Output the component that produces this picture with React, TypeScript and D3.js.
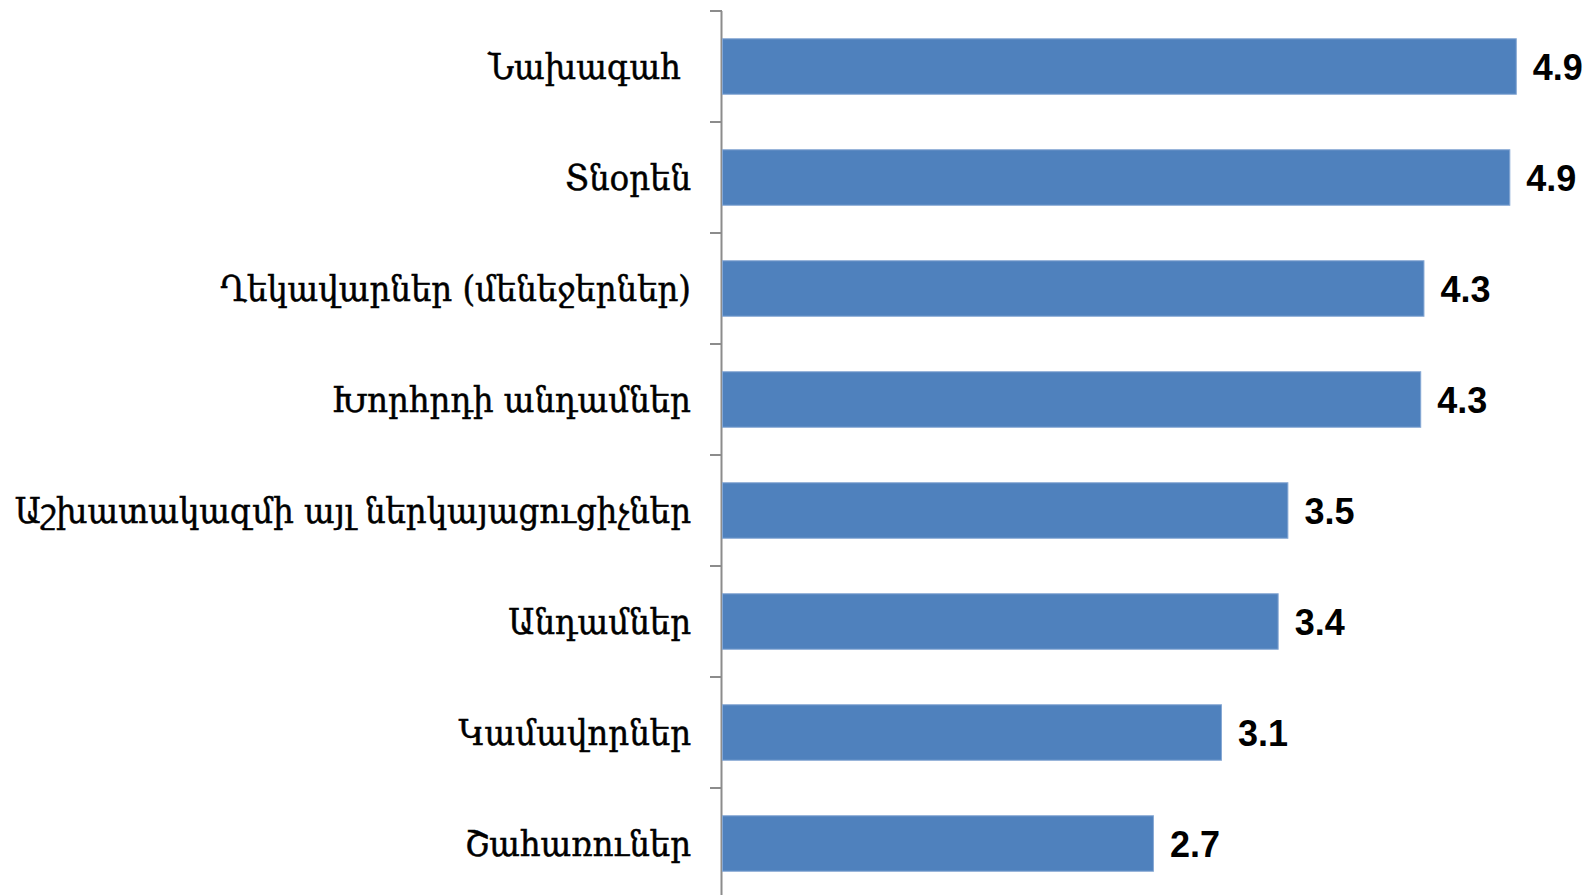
import React from "react";
import * as d3 from "d3";

const categories = [
  "Նախագահ ",
  "Տնօրեն",
  "Ղեկավարներ (մենեջերներ)",
  "Խորհրդի անդամներ",
  "Աշխատակազմի այլ ներկայացուցիչներ",
  "Անդամներ",
  "Կամավորներ",
  "Շահառուներ",
];
const values = [4.9, 4.86, 4.33, 4.31, 3.49, 3.43, 3.08, 2.66];
const xDomain = [0, 5];

const W = 1595;
const H = 895;
const margin = { left: 722, top: 11, right: 62, bottom: -4 };

export default function App() {
  const x = d3
    .scaleLinear()
    .domain(xDomain)
    .range([margin.left, W - margin.right - 1]);
  const y = d3
    .scaleBand()
    .domain(categories)
    .range([margin.top, H - margin.bottom])
    .paddingInner(0.5)
    .paddingOuter(0.25);
  const step = y.step();
  const bottomEdge = H - margin.bottom;
  const tickYs = categories.map((c) => (y(c) as number) - step * 0.25);
  const fmt = d3.format(".1f");

  return (
    <svg
      width={W}
      height={H}
      style={{ position: "absolute", left: 0, top: 0, background: "#fff" }}
    >
      <line
        x1={margin.left - 0.5}
        x2={margin.left - 0.5}
        y1={margin.top}
        y2={bottomEdge}
        stroke="#8c8c8c"
        strokeWidth={2}
      />
      {tickYs.map((t, i) => (
        <line
          key={"t" + i}
          x1={margin.left - 12}
          x2={margin.left}
          y1={t}
          y2={t}
          stroke="#8c8c8c"
          strokeWidth={2}
        />
      ))}
      {categories.map((c, i) => (
        <g key={c}>
          <rect
            x={x(0) + 0.5}
            y={y(c)}
            width={x(values[i]) - x(0)}
            height={y.bandwidth()}
            fill="#4f81bd"
            stroke="#86a8d4"
            strokeWidth={1}
          />
          <text
            x={margin.left - 31}
            y={(y(c) as number) + y.bandwidth() / 2}
            dy="0.36em"
            textAnchor="end"
            fontFamily="'DejaVu Serif Condensed', 'DejaVu Serif', serif"
            fontStretch="condensed"
            fontSize={36}
            fill="#000"
            stroke="#000"
            strokeWidth={0.5}
            style={{ whiteSpace: "pre" }}
          >
            {c}
          </text>
          <text
            x={x(values[i]) + 17}
            y={(y(c) as number) + y.bandwidth() / 2}
            dy="0.37em"
            fontFamily="'Liberation Sans', Arial, sans-serif"
            fontWeight="bold"
            fontSize={36}
            fill="#000"
          >
            {fmt(values[i])}
          </text>
        </g>
      ))}
    </svg>
  );
}
